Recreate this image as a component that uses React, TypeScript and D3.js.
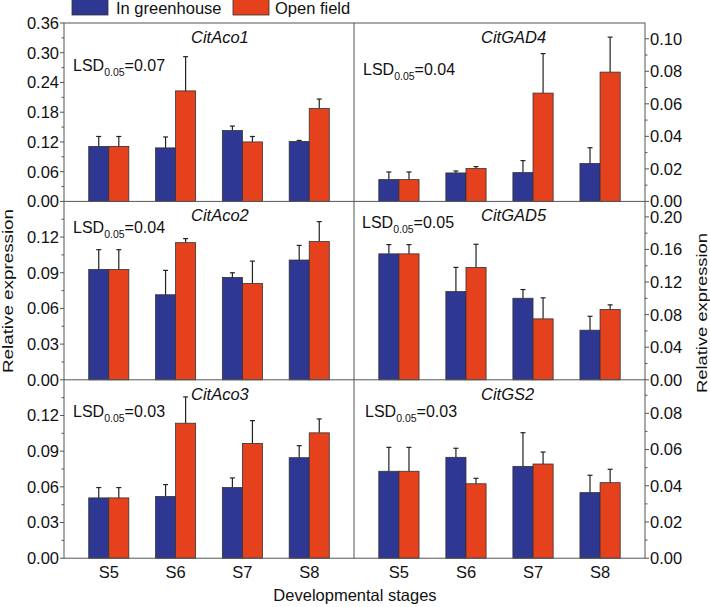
import React from "react";
import * as d3 from "d3";

const stages = ["S5", "S6", "S7", "S8"];
const seriesNames = ["In greenhouse", "Open field"];

const aco1Greenhouse = [0.111, 0.108, 0.143, 0.121];
const aco1GreenhouseErr = [0.02, 0.022, 0.009, 0.002];
const aco1OpenField = [0.111, 0.223, 0.12, 0.1875];
const aco1OpenFieldErr = [0.02, 0.069, 0.011, 0.019];

const gad4Greenhouse = [0.0134, 0.0175, 0.0177, 0.0233];
const gad4GreenhouseErr = [0.0047, 0.0012, 0.0074, 0.0097];
const gad4OpenField = [0.0134, 0.0202, 0.0666, 0.0795];
const gad4OpenFieldErr = [0.0047, 0.0012, 0.0243, 0.0215];

const aco2Greenhouse = [0.0928, 0.0715, 0.0861, 0.1007];
const aco2GreenhouseErr = [0.0166, 0.0205, 0.0039, 0.0123];
const aco2OpenField = [0.0928, 0.1153, 0.081, 0.1162];
const aco2OpenFieldErr = [0.0166, 0.0034, 0.0188, 0.0168];

const gad5Greenhouse = [0.1546, 0.1083, 0.1001, 0.0609];
const gad5GreenhouseErr = [0.0114, 0.0297, 0.0107, 0.0171];
const gad5OpenField = [0.1546, 0.1378, 0.0748, 0.0863];
const gad5OpenFieldErr = [0.0114, 0.0286, 0.0258, 0.0057];

const aco3Greenhouse = [0.0507, 0.0519, 0.0594, 0.0845];
const aco3GreenhouseErr = [0.0087, 0.01, 0.0081, 0.0101];
const aco3OpenField = [0.0507, 0.1135, 0.0965, 0.1054];
const aco3OpenFieldErr = [0.0087, 0.0221, 0.0192, 0.0117];

const gs2Greenhouse = [0.048, 0.0557, 0.0507, 0.0362];
const gs2GreenhouseErr = [0.0132, 0.005, 0.0186, 0.0096];
const gs2OpenField = [0.048, 0.0411, 0.052, 0.0417];
const gs2OpenFieldErr = [0.0132, 0.003, 0.0066, 0.0074];

const geneNames = ["CitAco1", "CitGAD4", "CitAco2", "CitGAD5", "CitAco3", "CitGS2"];
const lsdValues = ["0.07", "0.04", "0.04", "0.05", "0.03", "0.03"];
const yMaxes = [0.36, 0.1097, 0.15, 0.219, 0.15, 0.0985];
const labelMaxes = [0.36, 0.1, 0.12, 0.2, 0.12, 0.08];
const tickSteps = [0.06, 0.02, 0.03, 0.04, 0.03, 0.02];

const greenhouseData = [aco1Greenhouse, gad4Greenhouse, aco2Greenhouse, gad5Greenhouse, aco3Greenhouse, gs2Greenhouse];
const greenhouseErr = [aco1GreenhouseErr, gad4GreenhouseErr, aco2GreenhouseErr, gad5GreenhouseErr, aco3GreenhouseErr, gs2GreenhouseErr];
const openData = [aco1OpenField, gad4OpenField, aco2OpenField, gad5OpenField, aco3OpenField, gs2OpenField];
const openErr = [aco1OpenFieldErr, gad4OpenFieldErr, aco2OpenFieldErr, gad5OpenFieldErr, aco3OpenFieldErr, gs2OpenFieldErr];

// layout (positions, not data)
const W = 710;
const H = 607;
const colLeft = [64, 354];
const colWidth = [290, 291];
const rowTop = 23;
const rowH = 178.4;
const lsdDx = [9, 9, 9, 8, 9, 11];
const lsdDy = [48, 52, 32, 27, 37, 37];
const BLUE = "#2e3791";
const RED = "#e6411d";
const FRAME = "#555";
const FONT = "Liberation Sans, Arial, sans-serif";
const FS = 16.5;

function Panel({ idx }: { idx: number }) {
  const col = idx % 2;
  const row = Math.floor(idx / 2);
  const left = colLeft[col];
  const width = colWidth[col];
  const top = rowTop + row * rowH;
  const bottom = top + rowH;
  const x = d3.scaleLinear().domain([0.33, 4.67]).range([left, left + width]);
  const y = d3.scaleLinear().domain([0, yMaxes[idx]]).range([bottom, top]);
  const bw = x(1.3) - x(1);
  const step = tickSteps[idx];
  const majors = d3.range(0, labelMaxes[idx] + step / 10, step);
  const minors = d3.range(step / 2, yMaxes[idx] + 1e-9, step).filter((v) => y(v) >= top - 0.5);
  const axisX = col === 0 ? left : left + width;
  const dir = col === 0 ? -1 : 1;
  const series = [
    { vals: greenhouseData[idx], errs: greenhouseErr[idx], color: BLUE, off: -1 },
    { vals: openData[idx], errs: openErr[idx], color: RED, off: 0 },
  ];
  return (
    <g>
      {series.map((s, si) =>
        s.vals.map((v, i) => {
          const x0 = x(i + 1) + s.off * bw;
          const cx = x0 + bw / 2;
          const yTop = y(v);
          const yErr = y(v + s.errs[i]);
          return (
            <g key={`${si}-${i}`}>
              <line x1={cx} x2={cx} y1={yTop} y2={yErr} stroke="#222" strokeWidth={1.2} />
              <line x1={cx - 2.5} x2={cx + 2.5} y1={yErr} y2={yErr} stroke="#222" strokeWidth={1.2} />
              <rect x={x0} y={yTop} width={bw} height={bottom - yTop} fill={s.color} stroke="#333" strokeWidth={0.8} />
            </g>
          );
        })
      )}
      {majors.map((t) => (
        <g key={`M${t}`}>
          <line x1={axisX} x2={axisX + dir * 4} y1={y(t)} y2={y(t)} stroke={FRAME} />
          <text
            x={axisX + dir * 5}
            y={y(t)}
            dy="0.36em"
            textAnchor={col === 0 ? "end" : "start"}
            fontSize={FS}
            fontFamily={FONT}
            fill="#111"
          >
            {d3.format(".2f")(t)}
          </text>
        </g>
      ))}
      {minors.map((t) => (
        <line key={`m${t}`} x1={axisX} x2={axisX + dir * 2.5} y1={y(t)} y2={y(t)} stroke={FRAME} />
      ))}
      <text x={left + 127} y={top + 20} fontSize={FS} fontStyle="italic" fontFamily={FONT} fill="#111">
        {geneNames[idx]}
      </text>
      <text x={left + lsdDx[idx]} y={top + lsdDy[idx]} fontSize={16} fontFamily={FONT} fill="#111">
        LSD
        <tspan fontSize={10.5} dy={5}>0.05</tspan>
        <tspan dy={-5}>{"=" + lsdValues[idx]}</tspan>
      </text>
    </g>
  );
}

export default function App() {
  const bottom = rowTop + 3 * rowH;
  const xLeft = d3.scaleLinear().domain([0.33, 4.67]).range([colLeft[0], colLeft[0] + colWidth[0]]);
  const xRight = d3.scaleLinear().domain([0.33, 4.67]).range([colLeft[1], colLeft[1] + colWidth[1]]);
  const right = colLeft[1] + colWidth[1];
  return (
    <svg width={W} height={H} style={{ position: "absolute", left: 0, top: 0 }}>
      <rect width={W} height={H} fill="#fff" />
      {d3.range(6).map((i) => (
        <Panel key={i} idx={i} />
      ))}
      {/* frames */}
      <rect x={colLeft[0]} y={rowTop} width={right - colLeft[0]} height={bottom - rowTop} fill="none" stroke={FRAME} strokeWidth={1} />
      <line x1={colLeft[1]} x2={colLeft[1]} y1={rowTop} y2={bottom} stroke={FRAME} />
      {[1, 2].map((r) => (
        <line key={r} x1={colLeft[0]} x2={right} y1={rowTop + r * rowH} y2={rowTop + r * rowH} stroke={FRAME} />
      ))}
      {/* x tick labels */}
      {stages.map((s, i) => (
        <g key={s}>
          <text x={xLeft(i + 1)} y={578} textAnchor="middle" fontSize={FS} fontFamily={FONT} fill="#111">{s}</text>
          <text x={xRight(i + 1)} y={578} textAnchor="middle" fontSize={FS} fontFamily={FONT} fill="#111">{s}</text>
        </g>
      ))}
      <text x={355} y={601} textAnchor="middle" fontSize={FS} fontFamily={FONT} fill="#111">Developmental stages</text>
      <text transform="translate(12.5,291) rotate(-90)" textAnchor="middle" fontSize={14} textLength={164} lengthAdjust="spacingAndGlyphs" fontFamily={FONT} fill="#111">Relative expression</text>
      <text transform="translate(706.5,313) rotate(-90)" textAnchor="middle" fontSize={14} textLength={160} lengthAdjust="spacingAndGlyphs" fontFamily={FONT} fill="#111">Relative expression</text>
      {/* legend */}
      <rect x={72} y={-1} width={36} height={16} fill={BLUE} stroke="#333" strokeWidth={0.8} />
      <text x={116} y={13.5} fontSize={FS} fontFamily={FONT} fill="#111">{seriesNames[0]}</text>
      <rect x={233} y={-1} width={36} height={16} fill={RED} stroke="#333" strokeWidth={0.8} />
      <text x={275} y={13.5} fontSize={FS} fontFamily={FONT} fill="#111">{seriesNames[1]}</text>
    </svg>
  );
}
